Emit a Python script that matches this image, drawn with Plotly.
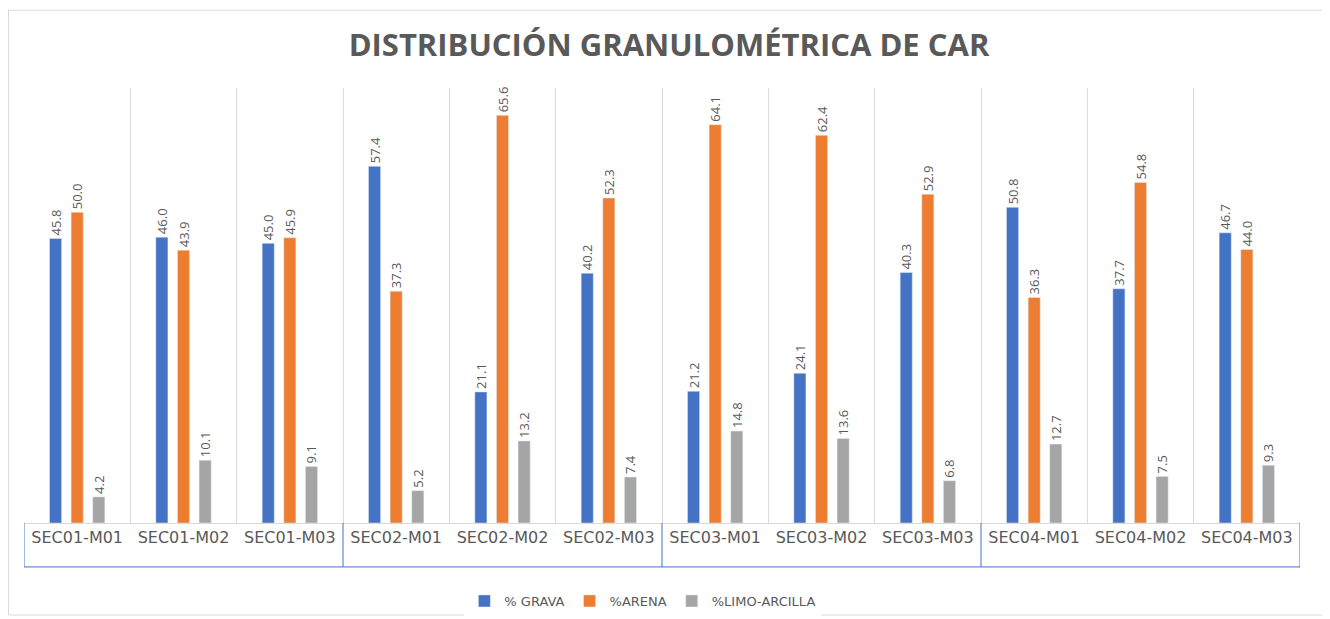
import plotly.graph_objects as go

# Sample labels and percentages per fraction
muestras = ["SEC01-M01", "SEC01-M02", "SEC01-M03",
            "SEC02-M01", "SEC02-M02", "SEC02-M03",
            "SEC03-M01", "SEC03-M02", "SEC03-M03",
            "SEC04-M01", "SEC04-M02", "SEC04-M03"]
grava = [45.8, 46.0, 45.0, 57.4, 21.1, 40.2, 21.2, 24.1, 40.3, 50.8, 37.7, 46.7]
arena = [50.0, 43.9, 45.9, 37.3, 65.6, 52.3, 64.1, 62.4, 52.9, 36.3, 54.8, 44.0]
limo_arcilla = [4.2, 10.1, 9.1, 5.2, 13.2, 7.4, 14.8, 13.6, 6.8, 12.7, 7.5, 9.3]
series = [("% GRAVA", grava, "#4472C4"),
          ("%ARENA", arena, "#ED7D31"),
          ("%LIMO-ARCILLA", limo_arcilla, "#A5A5A5")]

fig = go.Figure()
for name, vals, color in series:
    fig.add_trace(go.Bar(
        x=muestras, y=vals, name=name, marker_color=color,
        texttemplate="%{y:.1f}", textposition="outside", textangle=-90,
        textfont=dict(family="Open Sans", size=13, color="#595959"), cliponaxis=False
    ))

# Box under the category labels, split every 3 samples
blue = "#4472C4"
box_bottom = -0.101
shapes = [dict(type="line", xref="x", yref="paper", x0=-0.5, x1=11.5,
               y0=box_bottom, y1=box_bottom, line=dict(color=blue, width=1))]
for xb in [-0.5, 2.5, 5.5, 8.5, 11.5]:
    shapes.append(dict(type="line", xref="x", yref="paper", x0=xb, x1=xb,
                       y0=box_bottom, y1=0, line=dict(color=blue, width=1)))
# outer chart border
shapes.append(dict(type="rect", xref="paper", yref="paper",
                   x0=-0.0121, x1=1.0212, y0=-0.2115, y1=1.179,
                   line=dict(color="#d9d9d9", width=1)))

fig.update_layout(
    width=1322, height=611,
    margin=dict(l=16, r=30, t=80, b=96),
    paper_bgcolor="white", plot_bgcolor="white",
    title=dict(text="<b>DISTRIBUCIÓN GRANULOMÉTRICA DE CAR</b>", x=0.5, xanchor="center",
               y=0.94, yanchor="middle",
               font=dict(family="Open Sans", size=31, color="#595959")),
    barmode="group", bargap=0.39, bargroupgap=0.44,
    uniformtext=dict(minsize=13, mode="show"),
    legend=dict(orientation="h", x=0.485, xanchor="center",
                yref="container", y=0.0295, yanchor="middle",
                font=dict(family="DejaVu Sans", size=13, color="#595959"),
                itemwidth=30, traceorder="normal"),
    font=dict(family="Open Sans", color="#595959"),
    shapes=shapes,
)
fig.update_xaxes(showgrid=True, gridcolor="#d9d9d9", tickson="boundaries",
                 showline=True, linecolor="#d9d9d9",
                 ticks="outside", ticklen=12, tickcolor="rgba(0,0,0,0)",
                 tickfont=dict(family="DejaVu Sans", size=16, color="#595959"),
                 range=[-0.5, 11.5])
fig.update_yaxes(visible=False, range=[0, 70])

fig.write_html("out.html")
